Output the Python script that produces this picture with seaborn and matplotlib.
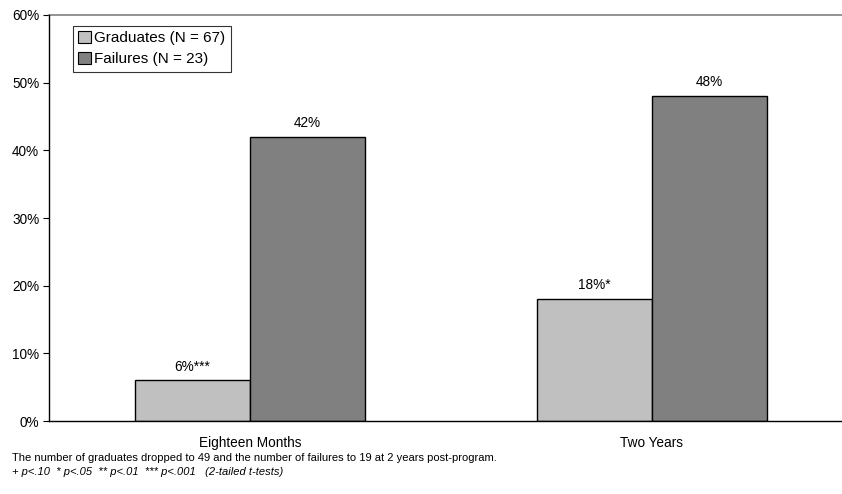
import matplotlib
matplotlib.use("Agg")
import matplotlib.pyplot as plt
import pandas as pd
import seaborn as sns
from matplotlib.patches import Patch

# data
periods = ["Eighteen Months", "Two Years"]
groups = ["Graduates (N = 67)", "Failures (N = 23)"]
graduates = [6, 18]
failures = [42, 48]
grad_labels = ["6%***", "18%*"]
fail_labels = ["42%", "48%"]
yticks = [0, 10, 20, 30, 40, 50, 60]
note1 = "The number of graduates dropped to 49 and the number of failures to 19 at 2 years post-program."
note2 = "+ p<.10  * p<.05  ** p<.01  *** p<.001   (2-tailed t-tests)"

colors = ["#c0c0c0", "#808080"]

df = pd.DataFrame({
    "period": periods * 2,
    "group": [groups[0]] * 2 + [groups[1]] * 2,
    "value": graduates + failures,
})

sns.set_style("white")
plt.rcParams["font.family"] = ["Liberation Sans", "DejaVu Sans"]
plt.rcParams["text.color"] = "black"
plt.rcParams["xtick.color"] = "black"
plt.rcParams["ytick.color"] = "black"

fig = plt.figure(figsize=(8.42, 4.94), dpi=100)
ax = fig.add_axes([49 / 842, 73 / 494, 804 / 842, 406 / 494])

sns.barplot(data=df, x="period", y="value", hue="group", palette=colors,
            width=0.572, edgecolor="black", linewidth=1, ax=ax,
            saturation=1, legend=False)

ax.set_xlim(-0.5, 1.5)
ax.set_ylim(0, 60)
ax.set_yticks(yticks)
ax.set_yticklabels([f"{t}%" for t in yticks], fontsize=9.8)
ax.set_xticks([0, 1])
ax.set_xticklabels(periods, fontsize=9.8)
ax.set_xticks([0.5], minor=True)
ax.tick_params(axis="x", which="major", length=0, pad=11)
ax.tick_params(axis="x", which="minor", length=4, width=0.8, color="black", direction="out")
ax.tick_params(axis="y", length=4, width=0.8, color="black", direction="out", left=True, pad=3)
ax.set_xlabel("")
ax.set_ylabel("")

for s in ["left", "bottom"]:
    ax.spines[s].set_color("black")
    ax.spines[s].set_linewidth(1)
ax.spines["right"].set_visible(False)
ax.spines["top"].set_visible(False)
ax.axhline(60, color="#808080", linewidth=1.2, clip_on=False)

# value labels
for i, p in enumerate(periods):
    ax.text(i - 0.143, graduates[i] + 1.0, grad_labels[i], ha="center", va="bottom", fontsize=9.8)
    ax.text(i + 0.143, failures[i] + 1.0, fail_labels[i], ha="center", va="bottom", fontsize=9.8)

handles = [Patch(facecolor=colors[k], edgecolor="black", linewidth=0.8) for k in range(2)]
leg = ax.legend(handles, groups, loc="upper left", bbox_to_anchor=(24 / 804, 0.973),
                fontsize=11, frameon=True, fancybox=False, edgecolor="black",
                handlelength=0.8, handleheight=0.8, handletextpad=0.25,
                borderpad=0.35, labelspacing=0.45, borderaxespad=0)
leg.get_frame().set_linewidth(0.8)

fig.text(12 / 842, 1 - 458 / 494, note1, fontsize=8, va="center")
fig.text(12 / 842, 1 - 472 / 494, note2, fontsize=8, va="center", style="italic")

fig.savefig("out.png", dpi=100)
